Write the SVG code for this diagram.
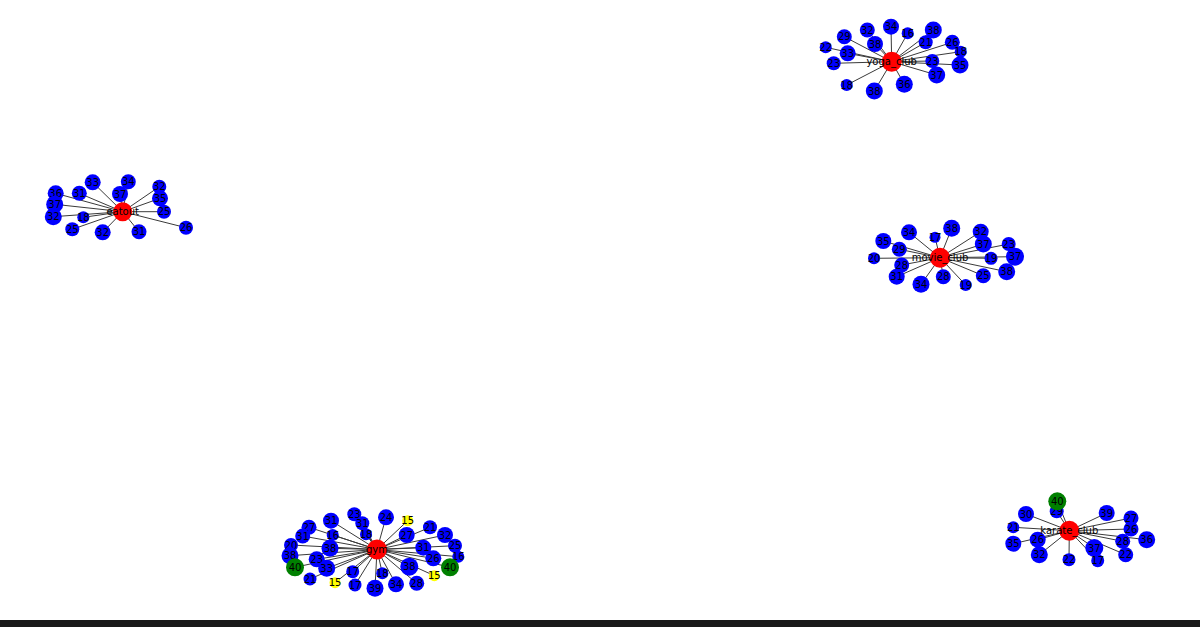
<svg xmlns="http://www.w3.org/2000/svg" width="1200" height="627" viewBox="0 0 1200 627">
<style>
.e line{stroke:#3a3a3a;stroke-width:1}
.b{fill:#0000ff}
.r{fill:#ff0000}
.g{fill:#008000}
.y{fill:#ffff00}
text{font-family:"DejaVu Sans",sans-serif;font-size:10px;fill:#000;text-anchor:middle;dominant-baseline:central}
</style>
<rect width="1200" height="627" fill="#fff"/>
<rect x="0" y="620" width="1200" height="7" fill="#1a1a1a"/>
<g class="e" id="edges">
<!-- eatout -->
<line x1="122.7" y1="211.7" x2="92.7" y2="182.3"/>
<line x1="122.7" y1="211.7" x2="128.3" y2="181.7"/>
<line x1="122.7" y1="211.7" x2="120" y2="194"/>
<line x1="122.7" y1="211.7" x2="55.7" y2="193.3"/>
<line x1="122.7" y1="211.7" x2="79.3" y2="193.3"/>
<line x1="122.7" y1="211.7" x2="159.3" y2="186.7"/>
<line x1="122.7" y1="211.7" x2="160" y2="198.3"/>
<line x1="122.7" y1="211.7" x2="54.7" y2="204.3"/>
<line x1="122.7" y1="211.7" x2="53.3" y2="216.7"/>
<line x1="122.7" y1="211.7" x2="83.3" y2="217.3"/>
<line x1="122.7" y1="211.7" x2="164" y2="211.7"/>
<line x1="122.7" y1="211.7" x2="72.3" y2="229.3"/>
<line x1="122.7" y1="211.7" x2="102.7" y2="232.3"/>
<line x1="122.7" y1="211.7" x2="139" y2="231.7"/>
<line x1="122.7" y1="211.7" x2="186" y2="227.7"/>
<!-- yoga -->
<line x1="891.7" y1="61.7" x2="891" y2="26.7"/>
<line x1="891.7" y1="61.7" x2="907.7" y2="33.3"/>
<line x1="891.7" y1="61.7" x2="867.3" y2="30"/>
<line x1="891.7" y1="61.7" x2="844.3" y2="36.7"/>
<line x1="891.7" y1="61.7" x2="875" y2="44"/>
<line x1="891.7" y1="61.7" x2="933.3" y2="30"/>
<line x1="891.7" y1="61.7" x2="925.7" y2="42.3"/>
<line x1="891.7" y1="61.7" x2="952.3" y2="42.3"/>
<line x1="891.7" y1="61.7" x2="960.7" y2="51.7"/>
<line x1="891.7" y1="61.7" x2="825.7" y2="47.3"/>
<line x1="891.7" y1="61.7" x2="847.7" y2="53.3"/>
<line x1="891.7" y1="61.7" x2="833.7" y2="63.3"/>
<line x1="891.7" y1="61.7" x2="932.3" y2="61"/>
<line x1="891.7" y1="61.7" x2="960" y2="65"/>
<line x1="891.7" y1="61.7" x2="936.7" y2="75"/>
<line x1="891.7" y1="61.7" x2="846.7" y2="85"/>
<line x1="891.7" y1="61.7" x2="874.3" y2="91"/>
<line x1="891.7" y1="61.7" x2="904.3" y2="84.3"/>
<!-- movie -->
<line x1="940" y1="257.7" x2="909" y2="232.3"/>
<line x1="940" y1="257.7" x2="935" y2="237.3"/>
<line x1="940" y1="257.7" x2="951.7" y2="228.3"/>
<line x1="940" y1="257.7" x2="980.7" y2="231.7"/>
<line x1="940" y1="257.7" x2="883.3" y2="241"/>
<line x1="940" y1="257.7" x2="899.3" y2="249.3"/>
<line x1="940" y1="257.7" x2="983.3" y2="244"/>
<line x1="940" y1="257.7" x2="1008.7" y2="244"/>
<line x1="940" y1="257.7" x2="874" y2="258.3"/>
<line x1="940" y1="257.7" x2="901.7" y2="265"/>
<line x1="940" y1="257.7" x2="991" y2="258.3"/>
<line x1="940" y1="257.7" x2="1015" y2="256.7"/>
<line x1="940" y1="257.7" x2="896.7" y2="276.7"/>
<line x1="940" y1="257.7" x2="1006.7" y2="271.7"/>
<line x1="940" y1="257.7" x2="983.3" y2="275.7"/>
<line x1="940" y1="257.7" x2="943.3" y2="276.7"/>
<line x1="940" y1="257.7" x2="921" y2="284.3"/>
<line x1="940" y1="257.7" x2="965.7" y2="285"/>
<!-- gym -->
<line x1="377" y1="549.5" x2="354.3" y2="514.3"/>
<line x1="377" y1="549.5" x2="331" y2="520.7"/>
<line x1="377" y1="549.5" x2="362.3" y2="523.3"/>
<line x1="377" y1="549.5" x2="309" y2="527.3"/>
<line x1="377" y1="549.5" x2="366" y2="534.3"/>
<line x1="377" y1="549.5" x2="332.7" y2="535"/>
<line x1="377" y1="549.5" x2="302.7" y2="536"/>
<line x1="377" y1="549.5" x2="291" y2="545"/>
<line x1="377" y1="549.5" x2="330" y2="548.3"/>
<line x1="377" y1="549.5" x2="290" y2="555.7"/>
<line x1="377" y1="549.5" x2="316.7" y2="559.3"/>
<line x1="377" y1="549.5" x2="295" y2="567.3"/>
<line x1="377" y1="549.5" x2="326.7" y2="568.3"/>
<line x1="377" y1="549.5" x2="352.7" y2="571.7"/>
<line x1="377" y1="549.5" x2="310" y2="579"/>
<line x1="377" y1="549.5" x2="335" y2="582.7"/>
<line x1="377" y1="549.5" x2="355" y2="585"/>
<line x1="377" y1="549.5" x2="386" y2="517.3"/>
<line x1="377" y1="549.5" x2="407.7" y2="520.7"/>
<line x1="377" y1="549.5" x2="430" y2="527.3"/>
<line x1="377" y1="549.5" x2="406.7" y2="535"/>
<line x1="377" y1="549.5" x2="445" y2="535"/>
<line x1="377" y1="549.5" x2="455" y2="545.7"/>
<line x1="377" y1="549.5" x2="423.3" y2="547.7"/>
<line x1="377" y1="549.5" x2="458.3" y2="556.7"/>
<line x1="377" y1="549.5" x2="433.3" y2="558.3"/>
<line x1="377" y1="549.5" x2="450" y2="567.3"/>
<line x1="377" y1="549.5" x2="409.3" y2="566.7"/>
<line x1="377" y1="549.5" x2="382.3" y2="573.3"/>
<line x1="377" y1="549.5" x2="434.3" y2="575.7"/>
<line x1="377" y1="549.5" x2="416.7" y2="583.3"/>
<line x1="377" y1="549.5" x2="396" y2="584.3"/>
<line x1="377" y1="549.5" x2="375" y2="588.3"/>
<!-- karate -->
<line x1="1069.3" y1="530.7" x2="1057.3" y2="501.3"/>
<line x1="1069.3" y1="530.7" x2="1056.7" y2="511.3"/>
<line x1="1069.3" y1="530.7" x2="1026" y2="514"/>
<line x1="1069.3" y1="530.7" x2="1106.7" y2="513"/>
<line x1="1069.3" y1="530.7" x2="1131" y2="518"/>
<line x1="1069.3" y1="530.7" x2="1013.3" y2="527.3"/>
<line x1="1069.3" y1="530.7" x2="1037.7" y2="539.7"/>
<line x1="1069.3" y1="530.7" x2="1131" y2="529"/>
<line x1="1069.3" y1="530.7" x2="1146.7" y2="539.7"/>
<line x1="1069.3" y1="530.7" x2="1013.3" y2="543.7"/>
<line x1="1069.3" y1="530.7" x2="1122.7" y2="541.3"/>
<line x1="1069.3" y1="530.7" x2="1039.3" y2="554.7"/>
<line x1="1069.3" y1="530.7" x2="1094.3" y2="548"/>
<line x1="1069.3" y1="530.7" x2="1125.7" y2="554.7"/>
<line x1="1069.3" y1="530.7" x2="1069" y2="559.7"/>
<line x1="1069.3" y1="530.7" x2="1097.7" y2="560.7"/>
</g>
<!-- eatout nodes -->
<g id="eatout"><circle class="r" cx="122.7" cy="211.7" r="9.5"/></g>
<g id="e33"><circle class="b" cx="92.7" cy="182.3" r="8"/><text x="92.7" y="182.3">33</text></g>
<g id="e34"><circle class="b" cx="128.3" cy="181.7" r="7.5"/><text x="128.3" y="181.7">34</text></g>
<g id="e37a"><circle class="b" cx="120" cy="194" r="8"/><text x="120" y="194">37</text></g>
<g id="e36"><circle class="b" cx="55.7" cy="193.3" r="8"/><text x="55.7" y="193.3">36</text></g>
<g id="e31a"><circle class="b" cx="79.3" cy="193.3" r="7.5"/><text x="79.3" y="193.3">31</text></g>
<g id="e32a"><circle class="b" cx="159.3" cy="186.7" r="7"/><text x="159.3" y="186.7">32</text></g>
<g id="e35"><circle class="b" cx="160" cy="198.3" r="8"/><text x="160" y="198.3">35</text></g>
<g id="e37b"><circle class="b" cx="54.7" cy="204.3" r="8.5"/><text x="54.7" y="204.3">37</text></g>
<g id="e32b"><circle class="b" cx="53.3" cy="216.7" r="8.5"/><text x="53.3" y="216.7">32</text></g>
<g id="e18"><circle class="b" cx="83.3" cy="217.3" r="6"/><text x="83.3" y="217.3">18</text></g>
<g id="e25a"><circle class="b" cx="164" cy="211.7" r="7"/><text x="164" y="211.7">25</text></g>
<g id="e25b"><circle class="b" cx="72.3" cy="229.3" r="7"/><text x="72.3" y="229.3">25</text></g>
<g id="e32c"><circle class="b" cx="102.7" cy="232.3" r="8"/><text x="102.7" y="232.3">32</text></g>
<g id="e31b"><circle class="b" cx="139" cy="231.7" r="7.5"/><text x="139" y="231.7">31</text></g>
<g id="e26"><circle class="b" cx="186" cy="227.7" r="7"/><text x="186" y="227.7">26</text></g>
<!-- yoga nodes -->
<g id="yoga_club"><circle class="r" cx="891.7" cy="61.7" r="10"/></g>
<g id="y34"><circle class="b" cx="891" cy="26.7" r="8"/><text x="891" y="26.7">34</text></g>
<g id="y16"><circle class="b" cx="907.7" cy="33.3" r="6"/><text x="907.7" y="33.3">16</text></g>
<g id="y32"><circle class="b" cx="867.3" cy="30" r="7.5"/><text x="867.3" y="30">32</text></g>
<g id="y29"><circle class="b" cx="844.3" cy="36.7" r="7.5"/><text x="844.3" y="36.7">29</text></g>
<g id="y38a"><circle class="b" cx="875" cy="44" r="8"/><text x="875" y="44">38</text></g>
<g id="y38b"><circle class="b" cx="933.3" cy="30" r="8.5"/><text x="933.3" y="30">38</text></g>
<g id="y21"><circle class="b" cx="925.7" cy="42.3" r="7"/><text x="925.7" y="42.3">21</text></g>
<g id="y26"><circle class="b" cx="952.3" cy="42.3" r="7.5"/><text x="952.3" y="42.3">26</text></g>
<g id="y18a"><circle class="b" cx="960.7" cy="51.7" r="6"/><text x="960.7" y="51.7">18</text></g>
<g id="y22"><circle class="b" cx="825.7" cy="47.3" r="6"/><text x="825.7" y="47.3">22</text></g>
<g id="y33"><circle class="b" cx="847.7" cy="53.3" r="8"/><text x="847.7" y="53.3">33</text></g>
<g id="y23a"><circle class="b" cx="833.7" cy="63.3" r="7"/><text x="833.7" y="63.3">23</text></g>
<g id="y23b"><circle class="b" cx="932.3" cy="61" r="7"/><text x="932.3" y="61">23</text></g>
<g id="y35"><circle class="b" cx="960" cy="65" r="8.5"/><text x="960" y="65">35</text></g>
<g id="y37"><circle class="b" cx="936.7" cy="75" r="8.5"/><text x="936.7" y="75">37</text></g>
<g id="y18b"><circle class="b" cx="846.7" cy="85" r="6"/><text x="846.7" y="85">18</text></g>
<g id="y38c"><circle class="b" cx="874.3" cy="91" r="8.5"/><text x="874.3" y="91">38</text></g>
<g id="y36"><circle class="b" cx="904.3" cy="84.3" r="8.5"/><text x="904.3" y="84.3">36</text></g>
<!-- movie nodes -->
<g id="movie_club"><circle class="r" cx="940" cy="257.7" r="10"/></g>
<g id="m34a"><circle class="b" cx="909" cy="232.3" r="8"/><text x="909" y="232.3">34</text></g>
<g id="m17"><circle class="b" cx="935" cy="237.3" r="5.5"/><text x="935" y="237.3">17</text></g>
<g id="m38a"><circle class="b" cx="951.7" cy="228.3" r="8.5"/><text x="951.7" y="228.3">38</text></g>
<g id="m32"><circle class="b" cx="980.7" cy="231.7" r="8"/><text x="980.7" y="231.7">32</text></g>
<g id="m35"><circle class="b" cx="883.3" cy="241" r="8"/><text x="883.3" y="241">35</text></g>
<g id="m29"><circle class="b" cx="899.3" cy="249.3" r="7.5"/><text x="899.3" y="249.3">29</text></g>
<g id="m37a"><circle class="b" cx="983.3" cy="244" r="8.5"/><text x="983.3" y="244">37</text></g>
<g id="m23"><circle class="b" cx="1008.7" cy="244" r="7"/><text x="1008.7" y="244">23</text></g>
<g id="m20"><circle class="b" cx="874" cy="258.3" r="6"/><text x="874" y="258.3">20</text></g>
<g id="m28a"><circle class="b" cx="901.7" cy="265" r="7.5"/><text x="901.7" y="265">28</text></g>
<g id="m19a"><circle class="b" cx="991" cy="258.3" r="6.5"/><text x="991" y="258.3">19</text></g>
<g id="m37b"><circle class="b" cx="1015" cy="256.7" r="9"/><text x="1015" y="256.7">37</text></g>
<g id="m31"><circle class="b" cx="896.7" cy="276.7" r="8"/><text x="896.7" y="276.7">31</text></g>
<g id="m38b"><circle class="b" cx="1006.7" cy="271.7" r="8.5"/><text x="1006.7" y="271.7">38</text></g>
<g id="m25"><circle class="b" cx="983.3" cy="275.7" r="7.5"/><text x="983.3" y="275.7">25</text></g>
<g id="m28b"><circle class="b" cx="943.3" cy="276.7" r="7.5"/><text x="943.3" y="276.7">28</text></g>
<g id="m34b"><circle class="b" cx="921" cy="284.3" r="8.5"/><text x="921" y="284.3">34</text></g>
<g id="m19b"><circle class="b" cx="965.7" cy="285" r="6"/><text x="965.7" y="285">19</text></g>
<!-- gym nodes -->
<g id="gym"><circle class="r" cx="377" cy="549.5" r="10"/></g>
<g id="g23a"><circle class="b" cx="354.3" cy="514.3" r="7"/><text x="354.3" y="514.3">23</text></g>
<g id="g31a"><circle class="b" cx="331" cy="520.7" r="8"/><text x="331" y="520.7">31</text></g>
<g id="g31b"><circle class="b" cx="362.3" cy="523.3" r="7"/><text x="362.3" y="523.3">31</text></g>
<g id="g27a"><circle class="b" cx="309" cy="527.3" r="7.5"/><text x="309" y="527.3">27</text></g>
<g id="g18a"><circle class="b" cx="366" cy="534.3" r="6"/><text x="366" y="534.3">18</text></g>
<g id="g16a"><circle class="b" cx="332.7" cy="535" r="6"/><text x="332.7" y="535">16</text></g>
<g id="g31c"><circle class="b" cx="302.7" cy="536" r="7.5"/><text x="302.7" y="536">31</text></g>
<g id="g20"><circle class="b" cx="291" cy="545" r="7"/><text x="291" y="545">20</text></g>
<g id="g38a"><circle class="b" cx="330" cy="548.3" r="8.5"/><text x="330" y="548.3">38</text></g>
<g id="g38b"><circle class="b" cx="290" cy="555.7" r="8.5"/><text x="290" y="555.7">38</text></g>
<g id="g23b"><circle class="b" cx="316.7" cy="559.3" r="8"/><text x="316.7" y="559.3">23</text></g>
<g id="g40a"><circle class="g" cx="295" cy="567.3" r="9"/><text x="295" y="567.3">40</text></g>
<g id="g33"><circle class="b" cx="326.7" cy="568.3" r="8.5"/><text x="326.7" y="568.3">33</text></g>
<g id="g17a"><circle class="b" cx="352.7" cy="571.7" r="6.5"/><text x="352.7" y="571.7">17</text></g>
<g id="g21a"><circle class="b" cx="310" cy="579" r="6.5"/><text x="310" y="579">21</text></g>
<g id="g15a"><circle class="y" cx="335" cy="582.7" r="5.5"/><text x="335" y="582.7">15</text></g>
<g id="g17b"><circle class="b" cx="355" cy="585" r="6.5"/><text x="355" y="585">17</text></g>
<g id="g24"><circle class="b" cx="386" cy="517.3" r="8"/><text x="386" y="517.3">24</text></g>
<g id="g15b"><circle class="y" cx="407.7" cy="520.7" r="5.5"/><text x="407.7" y="520.7">15</text></g>
<g id="g21b"><circle class="b" cx="430" cy="527.3" r="7"/><text x="430" y="527.3">21</text></g>
<g id="g27b"><circle class="b" cx="406.7" cy="535" r="8"/><text x="406.7" y="535">27</text></g>
<g id="g32"><circle class="b" cx="445" cy="535" r="8"/><text x="445" y="535">32</text></g>
<g id="g25"><circle class="b" cx="455" cy="545.7" r="7"/><text x="455" y="545.7">25</text></g>
<g id="g31d"><circle class="b" cx="423.3" cy="547.7" r="8"/><text x="423.3" y="547.7">31</text></g>
<g id="g16b"><circle class="b" cx="458.3" cy="556.7" r="6"/><text x="458.3" y="556.7">16</text></g>
<g id="g26"><circle class="b" cx="433.3" cy="558.3" r="8"/><text x="433.3" y="558.3">26</text></g>
<g id="g40b"><circle class="g" cx="450" cy="567.3" r="9"/><text x="450" y="567.3">40</text></g>
<g id="g38c"><circle class="b" cx="409.3" cy="566.7" r="9"/><text x="409.3" y="566.7">38</text></g>
<g id="g18b"><circle class="b" cx="382.3" cy="573.3" r="6"/><text x="382.3" y="573.3">18</text></g>
<g id="g15c"><circle class="y" cx="434.3" cy="575.7" r="5.5"/><text x="434.3" y="575.7">15</text></g>
<g id="g28"><circle class="b" cx="416.7" cy="583.3" r="7.5"/><text x="416.7" y="583.3">28</text></g>
<g id="g34"><circle class="b" cx="396" cy="584.3" r="8"/><text x="396" y="584.3">34</text></g>
<g id="g39"><circle class="b" cx="375" cy="588.3" r="8.5"/><text x="375" y="588.3">39</text></g>
<!-- karate nodes -->
<g id="karate_club"><circle class="r" cx="1069.3" cy="530.7" r="10"/></g>
<g id="k29"><circle class="b" cx="1056.7" cy="511.3" r="7"/><text x="1056.7" y="511.3">29</text></g>
<g id="k40"><circle class="g" cx="1057.3" cy="501.3" r="9"/><text x="1057.3" y="501.3">40</text></g>
<g id="k30"><circle class="b" cx="1026" cy="514" r="8"/><text x="1026" y="514">30</text></g>
<g id="k39"><circle class="b" cx="1106.7" cy="513" r="8"/><text x="1106.7" y="513">39</text></g>
<g id="k27"><circle class="b" cx="1131" cy="518" r="7.5"/><text x="1131" y="518">27</text></g>
<g id="k21"><circle class="b" cx="1013.3" cy="527.3" r="6"/><text x="1013.3" y="527.3">21</text></g>
<g id="k26a"><circle class="b" cx="1037.7" cy="539.7" r="8"/><text x="1037.7" y="539.7">26</text></g>
<g id="k26b"><circle class="b" cx="1131" cy="529" r="7.5"/><text x="1131" y="529">26</text></g>
<g id="k36"><circle class="b" cx="1146.7" cy="539.7" r="8.5"/><text x="1146.7" y="539.7">36</text></g>
<g id="k35"><circle class="b" cx="1013.3" cy="543.7" r="8"/><text x="1013.3" y="543.7">35</text></g>
<g id="k28"><circle class="b" cx="1122.7" cy="541.3" r="7.5"/><text x="1122.7" y="541.3">28</text></g>
<g id="k32"><circle class="b" cx="1039.3" cy="554.7" r="8.5"/><text x="1039.3" y="554.7">32</text></g>
<g id="k37"><circle class="b" cx="1094.3" cy="548" r="9"/><text x="1094.3" y="548">37</text></g>
<g id="k22a"><circle class="b" cx="1125.7" cy="554.7" r="7.5"/><text x="1125.7" y="554.7">22</text></g>
<g id="k22b"><circle class="b" cx="1069" cy="559.7" r="6.5"/><text x="1069" y="559.7">22</text></g>
<g id="k17"><circle class="b" cx="1097.7" cy="560.7" r="6.5"/><text x="1097.7" y="560.7">17</text></g>
<!-- center labels on top -->
<g id="labels">
<text x="122.7" y="211.7">eatout</text>
<text x="891.7" y="61.7">yoga_club</text>
<text x="940" y="257.7">movie_club</text>
<text x="377" y="549.5">gym</text>
<text x="1069.3" y="530.7">karate_club</text>
</g>
</svg>
